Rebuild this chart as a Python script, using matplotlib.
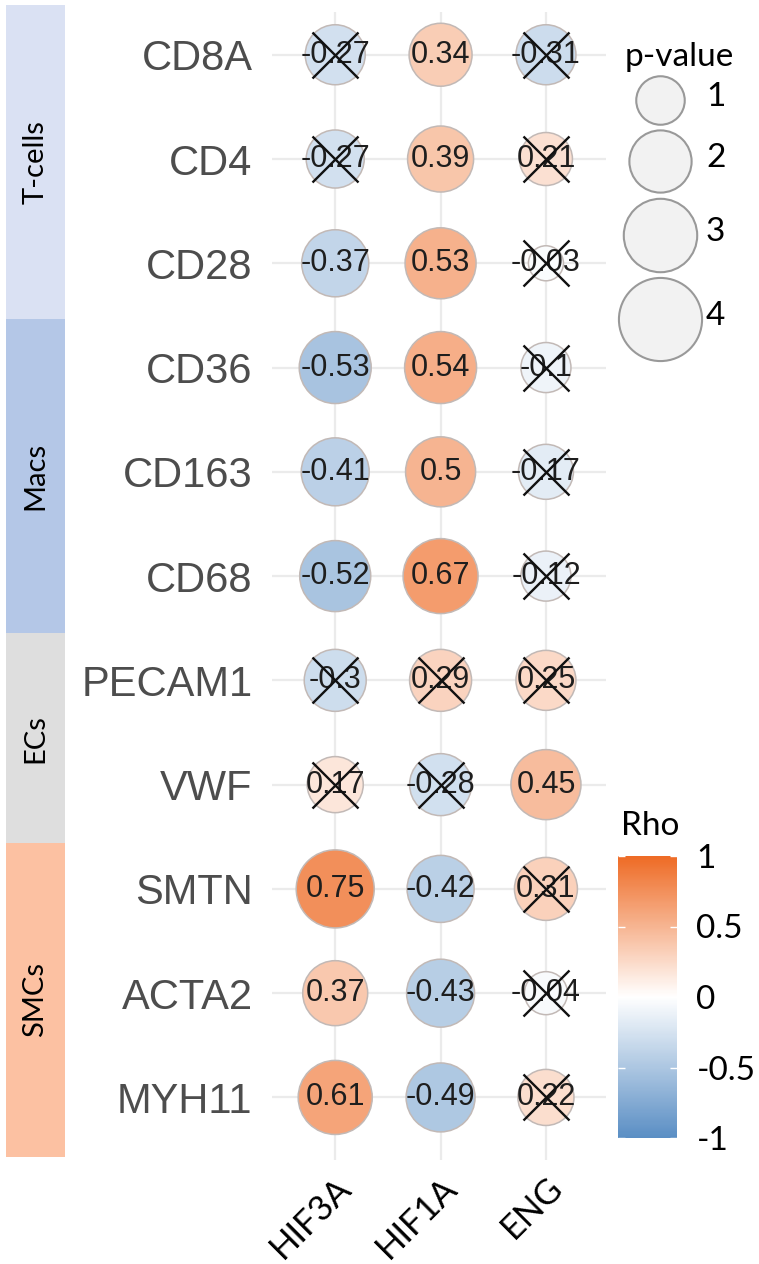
import numpy as np
import matplotlib as mpl
import matplotlib.pyplot as plt
from matplotlib.colors import LinearSegmentedColormap, Normalize
from matplotlib.transforms import ScaledTranslation

# data
genes = ['CD8A', 'CD4', 'CD28', 'CD36', 'CD163', 'CD68', 'PECAM1', 'VWF', 'SMTN', 'ACTA2', 'MYH11']
targets = ['HIF3A', 'HIF1A', 'ENG']
groups = ['T-cells', 'Macs', 'ECs', 'SMCs']
group_sizes = [3, 3, 2, 3]
group_colors = ['#dae1f3', '#b4c7e7', '#dedede', '#fcc1a2']

rho_hif3a = [-0.27, -0.27, -0.37, -0.53, -0.41, -0.52, -0.3, 0.17, 0.75, 0.37, 0.61]
rho_hif1a = [0.34, 0.39, 0.53, 0.54, 0.5, 0.67, 0.29, -0.28, -0.42, -0.43, -0.49]
rho_eng = [-0.31, 0.21, -0.03, -0.1, -0.17, -0.12, 0.25, 0.45, 0.31, -0.04, 0.22]

# -log10(p), drives circle size
logp_hif3a = [1.82, 1.67, 2.41, 2.86, 2.49, 2.77, 1.98, 1.52, 3.46, 2.23, 3.06]
logp_hif1a = [2.06, 2.32, 2.77, 2.86, 2.68, 3.15, 1.98, 1.98, 2.41, 2.49, 2.58]
logp_eng = [1.82, 1.30, 0.26, 1.10, 1.44, 1.10, 1.82, 2.68, 2.06, 0.67, 1.52]

# 1 = not significant (crossed out)
ns_hif3a = [1, 1, 0, 0, 0, 0, 1, 1, 0, 0, 0]
ns_hif1a = [0, 0, 0, 0, 0, 0, 1, 1, 0, 0, 0]
ns_eng = [1, 1, 1, 1, 1, 1, 1, 0, 1, 1, 1]

size_breaks = [1, 2, 3, 4]
rho_ticks = [-1, -0.5, 0, 0.5, 1]

W, H = 759, 1264
DPI = 100


def px_rect(x0, y0, x1, y1):
    return [x0 / W, 1 - y1 / H, (x1 - x0) / W, (y1 - y0) / H]


def diam_pt(v):
    # size scale: area linear in -log10(p), diameter in pixels -> points
    d_px = np.sqrt(832 + 1520 * np.asarray(v, dtype=float))
    return d_px * 72 / DPI


cmap = LinearSegmentedColormap.from_list('rho', ['#5a8ec4', '#ffffff', '#ee6b25'])
norm = Normalize(-1, 1)

rho = np.array([rho_hif3a, rho_hif1a, rho_eng])
logp = np.array([logp_hif3a, logp_hif1a, logp_eng])
ns = np.array([ns_hif3a, ns_hif1a, ns_eng])

fig = plt.figure(figsize=(W / DPI, H / DPI), dpi=DPI)

ax = fig.add_axes(px_rect(272, 12, 606, 1160))
ax.set_xlim(-0.6, 2.57)
ax.set_ylim(10.6, -0.41)
ax.set_xticks(range(len(targets)))
ax.set_yticks(range(len(genes)))
ax.set_yticklabels(genes, fontfamily='Liberation Sans', fontsize=30, color='#4d4d4d')
ax.set_xticklabels(targets, fontfamily='Lato', fontsize=25, color='black',
                   rotation=45, ha='right', va='top', rotation_mode='anchor')
off = ScaledTranslation(12 / DPI, 0, fig.dpi_scale_trans)
for lab in ax.get_xticklabels():
    lab.set_transform(lab.get_transform() + off)
ax.tick_params(length=0)
ax.tick_params(axis='y', pad=14)
ax.tick_params(axis='x', pad=8)
ax.grid(color='#ebebeb', lw=1.6)
ax.set_axisbelow(True)
for s in ax.spines.values():
    s.set_visible(False)

for j in range(len(targets)):
    xs = np.full(len(genes), j)
    ys = np.arange(len(genes))
    ax.scatter(xs, ys, s=diam_pt(logp[j]) ** 2, c=rho[j], cmap=cmap, norm=norm,
               edgecolors='#c2b9b6', linewidths=1.1, zorder=2)
    for i in range(len(genes)):
        ax.text(j, i, f'{rho[j, i]:g}', ha='center', va='center', fontsize=22,
                fontfamily='Liberation Sans', color='#1e1e1e', zorder=3)
    m = ns[j] == 1
    ax.scatter(xs[m], ys[m], marker='x', s=(46 * 0.72) ** 2, c='#111111',
               linewidths=1.7, zorder=4)

# group sidebar
sax = fig.add_axes(px_rect(6, 5, 65, 1157))
sax.set_xlim(0, 1)
sax.set_ylim(len(genes) - 0.5, -0.5)
starts = np.cumsum([0] + group_sizes[:-1])
for g, st, n, col in zip(groups, starts, group_sizes, group_colors):
    c = st - 0.5 + n / 2
    sax.barh(c, 1, height=n, left=0, color=col, edgecolor='none')
    sax.text(0.5, c, g, rotation=90, ha='center', va='center',
             fontfamily='Lato', fontsize=21, color='black')
sax.axis('off')

# overlay in pixel units for the size legend
lax = fig.add_axes([0, 0, 1, 1])
lax.set_xlim(0, W)
lax.set_ylim(H, 0)
lax.axis('off')
lax.patch.set_alpha(0)
lax.text(625, 66, 'p-value', fontfamily='Lato', fontsize=24, ha='left', va='baseline')
d_leg = diam_pt(size_breaks) * DPI / 72
cy = 100
for k, b in enumerate(size_breaks):
    if k > 0:
        cy += d_leg[k - 1] / 2 + d_leg[k] / 2 + 6
    lax.scatter([660], [cy], s=diam_pt(b) ** 2, facecolor='#f2f2f2',
                edgecolor='#999999', linewidths=1.5)
    lax.text(706, cy - 3, str(b), fontfamily='Lato', fontsize=24, ha='left', va='center')

lax.text(621, 835, 'Rho', fontfamily='Lato', fontsize=24, ha='left', va='baseline')

# colorbar
cax = fig.add_axes(px_rect(618, 856, 677, 1138))
cb = mpl.colorbar.ColorbarBase(cax, cmap=cmap, norm=norm, orientation='vertical')
cb.outline.set_visible(False)
cb.set_ticks(rho_ticks)
cb.set_ticklabels([f'{t:g}' for t in rho_ticks])
cax.tick_params(direction='in', color='white', length=5, width=1, left=True, right=True,
                labelleft=False, labelright=True, pad=14, labelsize=24)
for lab in cax.get_yticklabels():
    lab.set_fontfamily('Lato')

fig.savefig('out.png', dpi=DPI)
